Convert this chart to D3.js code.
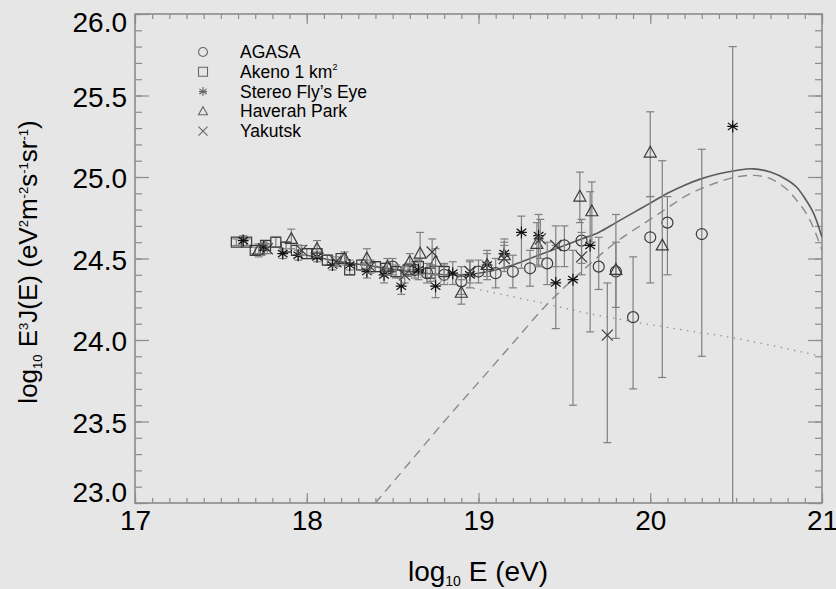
<!DOCTYPE html>
<html><head><meta charset="utf-8">
<script src="https://cdn.jsdelivr.net/npm/d3@7"></script>
<style>
html,body{margin:0;padding:0;background:#e6e6e6;}
svg{display:block;}
text{font-family:"Liberation Sans",Arial,Helvetica,sans-serif;fill:#000;}
</style></head><body>
<svg id="chart" width="836" height="589"></svg>
<script>
// ---------------- data ----------------
const xTicks = [17, 18, 19, 20, 21];
const yTicks = [23.0, 23.5, 24.0, 24.5, 25.0, 25.5, 26.0];
const seriesNames = ["AGASA", "Akeno 1 km", "Stereo Fly\u2019s Eye", "Haverah Park", "Yakutsk"];

const agasaE  = [18.50,18.63,18.70,18.80,18.90,19.00,19.10,19.20,19.30,19.40,19.50,19.60,19.70,19.80,19.90,20.00,20.10,20.30];
const agasaV  = [24.45,24.43,24.41,24.40,24.36,24.42,24.41,24.42,24.44,24.47,24.58,24.61,24.45,24.42,24.14,24.63,24.72,24.65];
const agasaHi = [24.50,24.48,24.47,24.46,24.45,24.49,24.50,24.52,24.55,24.60,24.70,24.74,24.63,24.60,24.51,24.88,24.88,25.17];
const agasaLo = [24.40,24.38,24.35,24.34,24.28,24.35,24.32,24.32,24.33,24.34,24.45,24.47,24.31,24.20,23.70,24.35,24.40,23.90];

const akenoE  = [17.59,17.65,17.70,17.76,17.82,17.88,17.94,18.00,18.06,18.12,18.20,18.25,18.32,18.40,18.46,18.52,18.59,18.65,18.72,18.80];
const akenoV  = [24.60,24.60,24.55,24.58,24.60,24.57,24.55,24.53,24.53,24.49,24.50,24.43,24.46,24.45,24.44,24.42,24.43,24.45,24.41,24.42];
const akenoHi = [24.62,24.62,24.57,24.61,24.63,24.60,24.58,24.56,24.56,24.52,24.53,24.46,24.49,24.48,24.47,24.46,24.47,24.49,24.46,24.47];
const akenoLo = [24.58,24.58,24.53,24.55,24.57,24.54,24.52,24.50,24.50,24.46,24.47,24.40,24.43,24.42,24.41,24.38,24.39,24.41,24.36,24.37];

const flyE  = [17.63,17.75,17.86,17.95,18.06,18.15,18.25,18.35,18.45,18.55,18.65,18.75,18.85,18.95,19.05,19.15,19.25,19.35,19.45,19.55,19.65,20.48];
const flyV  = [24.61,24.57,24.53,24.52,24.51,24.46,24.46,24.42,24.40,24.33,24.43,24.33,24.41,24.40,24.46,24.53,24.66,24.64,24.35,24.37,24.58,25.31];
const flyHi = [24.64,24.60,24.56,24.55,24.54,24.49,24.49,24.46,24.45,24.38,24.49,24.40,24.48,24.48,24.55,24.62,24.76,24.77,24.58,24.55,24.91,25.80];
const flyLo = [24.58,24.53,24.50,24.49,24.48,24.43,24.43,24.38,24.35,24.28,24.37,24.26,24.34,24.32,24.37,24.44,24.44,24.45,24.07,23.60,24.05,22.90];

const haverahE  = [17.72,17.91,18.06,18.22,18.35,18.47,18.60,18.66,18.75,18.90,19.05,19.15,19.34,19.59,19.66,19.80,20.00,20.07];
const haverahV  = [24.55,24.62,24.56,24.50,24.50,24.45,24.48,24.53,24.48,24.29,24.46,24.52,24.59,24.88,24.79,24.43,25.15,24.58];
const haverahHi = [24.59,24.68,24.61,24.54,24.56,24.50,24.53,24.66,24.56,24.37,24.53,24.60,24.72,25.03,24.97,24.77,25.40,25.10];
const haverahLo = [24.51,24.56,24.51,24.46,24.44,24.40,24.43,24.40,24.40,24.22,24.39,24.44,24.46,24.72,24.60,24.01,24.88,23.77];

const yakutskE  = [17.77,17.97,18.17,18.37,18.57,18.73,18.95,19.15,19.36,19.45,19.60,19.75];
const yakutskV  = [24.56,24.55,24.48,24.45,24.40,24.54,24.42,24.50,24.62,24.58,24.51,24.03];
const yakutskHi = [24.59,24.58,24.51,24.49,24.45,24.62,24.49,24.58,24.74,24.70,24.66,24.35];
const yakutskLo = [24.53,24.52,24.45,24.41,24.35,24.46,24.35,24.42,24.50,24.45,24.40,23.37];

// model curves
const totalE = [18.0,18.2,18.4,18.6,18.8,18.9,19.0,19.1,19.2,19.3,19.4,19.5,19.6,19.7,19.8,19.9,20.0,20.1,20.2,20.3,20.4,20.5,20.6,20.7,20.8,20.85,20.9,20.95,21.0];
const totalV = [24.52,24.48,24.45,24.42,24.40,24.40,24.41,24.43,24.46,24.50,24.54,24.58,24.62,24.66,24.72,24.78,24.84,24.90,24.95,24.99,25.02,25.04,25.05,25.03,24.98,24.94,24.87,24.78,24.63];
const sourceE = [18.4,18.6,18.8,19.0,19.2,19.4,19.6,19.8,20.0,20.1,20.2,20.3,20.4,20.5,20.6,20.7,20.8,20.85,20.9,20.95,21.0];
const sourceV = [23.00,23.25,23.50,23.74,23.98,24.22,24.42,24.60,24.74,24.81,24.88,24.93,24.97,25.00,25.01,24.99,24.92,24.86,24.79,24.69,24.55];
const bgE = [18.0,18.5,19.0,19.4,19.7,20.2,20.5,21.0];
const bgV = [24.52,24.42,24.31,24.22,24.15,24.06,24.01,23.90];

// ---------------- drawing ----------------
const svg = d3.select("#chart");
const W = 836, H = 589;
const x = d3.scaleLinear().domain([17, 21]).range([135, 822]);
const y = d3.scaleLinear().domain([23, 26]).range([503, 14]);
const [x0, x1] = x.range(); const [y0, y1] = y.range();

svg.append("rect").attr("width", W).attr("height", H).attr("fill", "#e6e6e6");
svg.append("clipPath").attr("id", "clip").append("rect")
  .attr("x", x0).attr("y", y1).attr("width", x1 - x0).attr("height", y0 - y1);

const axisCol = "#8c8c8c";
const minorX = d3.range(17, 21.001, 0.1).map(v => +v.toFixed(1));
const minorY = d3.range(23, 26.001, 0.1).map(v => +v.toFixed(1));

function styleAxis(g) {
  g.select(".domain").remove();
  g.selectAll(".tick line").attr("stroke", axisCol).attr("stroke-width", 1.2);
  g.selectAll(".tick text").attr("font-family", "Liberation Sans, Arial, sans-serif").attr("fill", "#000");
}
// bottom
svg.append("g").attr("transform", `translate(0,${y0})`)
  .call(d3.axisBottom(x).tickValues(minorX).tickSize(-5).tickFormat("")).call(styleAxis);
svg.append("g").attr("transform", `translate(0,${y0})`)
  .call(d3.axisBottom(x).tickValues(xTicks).tickSize(-10).tickPadding(7).tickFormat(d3.format("d")))
  .call(styleAxis)
  .call(g => g.selectAll(".tick text").attr("font-size", 28));
// top
svg.append("g").attr("transform", `translate(0,${y1})`)
  .call(d3.axisTop(x).tickValues(minorX).tickSize(-5).tickFormat("")).call(styleAxis);
svg.append("g").attr("transform", `translate(0,${y1})`)
  .call(d3.axisTop(x).tickValues(xTicks).tickSize(-10).tickFormat("")).call(styleAxis);
// left
svg.append("g").attr("transform", `translate(${x0},0)`)
  .call(d3.axisLeft(y).tickValues(minorY).tickSize(-7).tickFormat("")).call(styleAxis);
svg.append("g").attr("transform", `translate(${x0},0)`)
  .call(d3.axisLeft(y).tickValues(yTicks).tickSize(-14).tickPadding(8).tickFormat(d3.format(".1f")))
  .call(styleAxis)
  .call(g => g.selectAll(".tick text").attr("font-size", 28)
    .attr("dy", d => d === 26 ? "0.62em" : d === 23 ? "-0.05em" : "0.38em"));
// right
svg.append("g").attr("transform", `translate(${x1},0)`)
  .call(d3.axisRight(y).tickValues(minorY).tickSize(-7).tickFormat("")).call(styleAxis);
svg.append("g").attr("transform", `translate(${x1},0)`)
  .call(d3.axisRight(y).tickValues(yTicks).tickSize(-14).tickFormat("")).call(styleAxis);

// frame
svg.append("rect").attr("x", x0).attr("y", y1).attr("width", x1 - x0).attr("height", y0 - y1)
  .attr("fill", "none").attr("stroke", axisCol).attr("stroke-width", 1.6);

// curves
const plot = svg.append("g").attr("clip-path", "url(#clip)");
const smooth = d3.line().x(d => x(d[0])).y(d => y(d[1])).curve(d3.curveCatmullRom);
plot.append("path").datum(d3.zip(bgE, bgV)).attr("d", smooth)
  .attr("fill", "none").attr("stroke", "#8a8a8a").attr("stroke-width", 1.3).attr("stroke-dasharray", "1.3,5.5");
plot.append("path").datum(d3.zip(sourceE, sourceV)).attr("d", smooth)
  .attr("fill", "none").attr("stroke", "#8a8a8a").attr("stroke-width", 1.4).attr("stroke-dasharray", "9,6");
plot.append("path").datum(d3.zip(totalE, totalV)).attr("d", smooth)
  .attr("fill", "none").attr("stroke", "#5a5a5a").attr("stroke-width", 1.6);

// symbol paths
function symPath(type, s) {
  const h = s / 2;
  switch (type) {
    case "circle": return `M${h},0A${h},${h},0,1,1,${-h},0A${h},${h},0,1,1,${h},0Z`;
    case "square": return `M${-h},${-h}H${h}V${h}H${-h}Z`;
    case "star": return `M0,${-h}V${h}M${-h*0.8},${-h*0.6}L${h*0.8},${h*0.6}M${-h*0.8},${h*0.6}L${h*0.8},${-h*0.6}M${-h*0.9},0H${h*0.9}`;
    case "triangle": return `M0,${-h*1.05}L${h},${h*0.75}H${-h}Z`;
    case "cross": return `M${-h},${-h}L${h},${h}M${-h},${h}L${h},${-h}`;
  }
}

const series = [
  {type: "circle",   E: agasaE,   V: agasaV,   hi: agasaHi,   lo: agasaLo,   size: 11},
  {type: "square",   E: akenoE,   V: akenoV,   hi: akenoHi,   lo: akenoLo,   size: 10},
  {type: "star",     E: flyE,     V: flyV,     hi: flyHi,     lo: flyLo,     size: 12},
  {type: "triangle", E: haverahE, V: haverahV, hi: haverahHi, lo: haverahLo, size: 12},
  {type: "cross",    E: yakutskE, V: yakutskV, hi: yakutskHi, lo: yakutskLo, size: 11}
];

series.forEach(s => {
  const g = plot.append("g");
  s.E.forEach((e, i) => {
    const cx = x(e);
    g.append("line").attr("x1", cx).attr("x2", cx).attr("y1", y(s.hi[i])).attr("y2", y(s.lo[i]))
      .attr("stroke", "#808080").attr("stroke-width", 1.2);
    [s.hi[i], s.lo[i]].forEach(b => {
      g.append("line").attr("x1", cx - 4).attr("x2", cx + 4).attr("y1", y(b)).attr("y2", y(b))
        .attr("stroke", "#808080").attr("stroke-width", 1.2);
    });
  });
  s.E.forEach((e, i) => {
    g.append("path").attr("d", symPath(s.type, s.size))
      .attr("transform", `translate(${x(e)},${y(s.V[i])})`)
      .attr("fill", "none").attr("stroke", s.type === "star" ? "#111" : "#3a3a3a").attr("stroke-width", 1.2);
  });
});

// legend
const leg = svg.append("g");
const legY0 = 52, legDy = 19.8;
series.forEach((s, i) => {
  const ly = legY0 + i * legDy;
  leg.append("path").attr("d", symPath(s.type, 9)).attr("transform", `translate(203,${ly})`)
    .attr("fill", "none").attr("stroke", "#666").attr("stroke-width", 1.1);
  const t = leg.append("text").attr("x", 240).attr("y", ly + 6).attr("font-size", 17.5).text(seriesNames[i]);
  if (i === 1) t.append("tspan").attr("font-size", 9).attr("dy", -8).text("2");
});

// axis titles
const xl = svg.append("text").attr("x", 478).attr("y", 581).attr("text-anchor", "middle").attr("font-size", 28);
xl.append("tspan").text("log");
xl.append("tspan").attr("font-size", 14).attr("dy", 5).text("10");
xl.append("tspan").attr("dy", -5).text(" E (eV)");

const yl = svg.append("text").attr("transform", "translate(37,262) rotate(-90)")
  .attr("text-anchor", "middle").attr("font-size", 26);
const parts = [
  ["log", 0, null], ["10", 5, 13], [" E", -5, null], ["3", -9, 13], ["J(E) (eV", 9, null],
  ["2", -9, 13], ["m", 9, null], ["-2", -9, 13], ["s", 9, null], ["-1", -9, 13], ["sr", 9, null], ["-1", -9, 13], [")", 9, null]
];
parts.forEach(([txt, dy, fs]) => {
  const ts = yl.append("tspan").attr("dy", dy).text(txt);
  if (fs) ts.attr("font-size", fs);
});
</script>
</body></html>
